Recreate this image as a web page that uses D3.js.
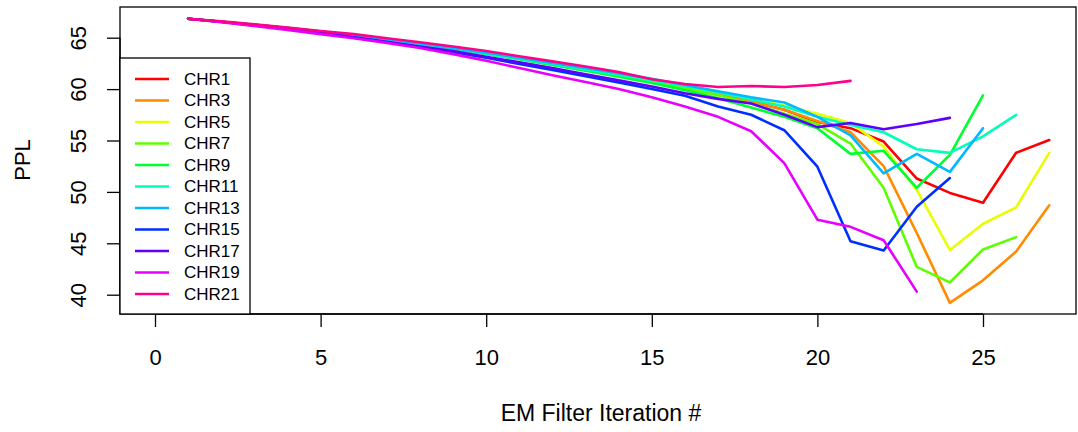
<!DOCTYPE html>
<html>
<head>
<meta charset="utf-8">
<script src="https://cdn.jsdelivr.net/npm/d3@7"></script>
<style>
  body { margin: 0; background: #fff; }
  svg text { font-family: "Liberation Sans", Arial, sans-serif; fill: #000; }
</style>
</head>
<body>
<svg id="chart" width="1078" height="432"></svg>
<script>
// series names + colours (R rainbow(11))
const names = ["CHR1", "CHR3", "CHR5", "CHR7", "CHR9", "CHR11", "CHR13", "CHR15", "CHR17", "CHR19", "CHR21"];
const colors = ["#FF0000", "#FF8B00", "#E8FF00", "#5DFF00", "#00FF2E", "#00FFB9", "#00B9FF", "#002EFF", "#5D00FF", "#E800FF", "#FF008B"];

// PPL per iteration, first value is iteration 1
const chr1 = [66.85, 66.55, 66.25, 65.95, 65.6, 65.2, 64.8, 64.4, 63.95, 63.45, 62.95, 62.4, 61.85, 61.3, 60.75, 60.2, 59.5, 58.8, 58.0, 56.8, 56.2, 54.9, 51.3, 49.9, 48.95, 53.8, 55.05];
const chr3 = [66.85, 66.55, 66.25, 65.95, 65.6, 65.2, 64.8, 64.4, 63.95, 63.45, 62.95, 62.4, 61.85, 61.3, 60.75, 60.2, 59.5, 58.8, 58.0, 56.9, 55.8, 52.5, 46.0, 39.2, 41.4, 44.2, 48.7];
const chr5 = [66.85, 66.55, 66.25, 65.95, 65.6, 65.2, 64.8, 64.4, 63.95, 63.45, 62.95, 62.45, 61.9, 61.35, 60.8, 60.3, 59.7, 59.1, 58.4, 57.6, 56.7, 54.4, 50.2, 44.35, 46.9, 48.5, 53.8];
const chr7 = [66.85, 66.55, 66.25, 65.95, 65.6, 65.2, 64.8, 64.4, 63.95, 63.45, 62.95, 62.4, 61.85, 61.3, 60.7, 60.1, 59.4, 58.6, 57.6, 56.6, 54.7, 50.4, 42.7, 41.2, 44.4, 45.6];
const chr9 = [66.85, 66.55, 66.25, 65.95, 65.6, 65.2, 64.8, 64.4, 63.95, 63.45, 62.9, 62.35, 61.8, 61.2, 60.6, 59.9, 59.1, 58.2, 57.3, 56.2, 53.7, 54.0, 50.4, 53.6, 59.4];
const chr11 = [66.85, 66.55, 66.25, 65.95, 65.6, 65.2, 64.8, 64.4, 63.95, 63.45, 62.95, 62.45, 61.9, 61.4, 60.85, 60.3, 59.7, 59.0, 58.3, 57.3, 56.5, 55.8, 54.15, 53.8, 55.4, 57.5];
const chr13 = [66.85, 66.55, 66.25, 65.95, 65.6, 65.25, 64.85, 64.45, 64.0, 63.55, 63.05, 62.55, 62.05, 61.55, 61.0, 60.4, 59.8, 59.2, 58.7, 57.3, 55.5, 51.8, 53.7, 51.95, 56.2];
const chr15 = [66.85, 66.55, 66.2, 65.85, 65.5, 65.0, 64.55, 64.1, 63.6, 63.05, 62.45, 61.85, 61.25, 60.65, 60.0, 59.35, 58.3, 57.5, 56.0, 52.45, 45.2, 44.3, 48.55, 51.35];
const chr17 = [66.85, 66.55, 66.2, 65.85, 65.5, 65.05, 64.6, 64.15, 63.7, 63.15, 62.6, 62.05, 61.45, 60.85, 60.25, 59.6, 59.05, 58.6, 57.5, 56.3, 56.7, 56.1, 56.6, 57.2];
const chr19 = [66.85, 66.5, 66.15, 65.75, 65.35, 64.95, 64.5, 64.0, 63.4, 62.75, 62.05, 61.35, 60.7, 60.0, 59.2, 58.3, 57.3, 55.9, 52.8, 47.3, 46.6, 45.3, 40.3];
const chr21 = [66.85, 66.6, 66.3, 66.0, 65.65, 65.35, 64.95, 64.55, 64.15, 63.7, 63.2, 62.7, 62.2, 61.65, 60.95, 60.5, 60.2, 60.3, 60.2, 60.4, 60.8];

const xTicks = [0, 5, 10, 15, 20, 25];
const yTicks = [40, 45, 50, 55, 60, 65];

const allSeries = [chr1, chr3, chr5, chr7, chr9, chr11, chr13, chr15, chr17, chr19, chr21];

const svg = d3.select("#chart");

// plot box (R style)
const box = { left: 120, right: 1076, top: 7, bottom: 314 };

const x = d3.scaleLinear().domain([0, 25]).range([155, 983]);
const y = d3.scaleLinear().domain([40, 65]).range([294.7, 37.7]);

const line = d3.line()
  .x((d, i) => x(i + 1))
  .y(d => y(d));

const plot = svg.append("g");
plot.selectAll("path.series")
  .data(allSeries)
  .join("path")
  .attr("class", "series")
  .attr("d", d => line(d))
  .attr("fill", "none")
  .attr("stroke", (d, i) => colors[i])
  .attr("stroke-width", 2.6)
  .attr("stroke-linejoin", "round")
  .attr("stroke-linecap", "round");

// box
svg.append("rect")
  .attr("x", box.left).attr("y", box.top)
  .attr("width", box.right - box.left).attr("height", box.bottom - box.top)
  .attr("fill", "none").attr("stroke", "#000").attr("stroke-width", 1.3);

// x axis
const xAxis = svg.append("g").attr("transform", `translate(0,${box.bottom})`)
  .call(d3.axisBottom(x).tickValues(xTicks).tickSize(13));
xAxis.select(".domain").attr("d", `M${x(0)},0H${x(25)}`).attr("stroke-width", 1.3);
xAxis.selectAll(".tick line").attr("stroke-width", 1.3);
xAxis.selectAll("text")
  .attr("y", 43).attr("dy", null)
  .attr("dominant-baseline", "central")
  .style("font-size", "22px")
  .attr("font-family", null);

// y axis
const yAxis = svg.append("g").attr("transform", `translate(${box.left},0)`)
  .call(d3.axisLeft(y).tickValues(yTicks).tickSize(13).tickFormat(d3.format("d")));
yAxis.select(".domain").attr("d", `M0,${y(40)}V${y(65)}`).attr("stroke-width", 1.3);
yAxis.selectAll(".tick line").attr("stroke-width", 1.3);
yAxis.selectAll("text")
  .attr("x", null).attr("dy", null)
  .attr("transform", "translate(-42,0) rotate(-90)")
  .attr("text-anchor", "middle")
  .attr("dominant-baseline", "central")
  .style("font-size", "22px")
  .attr("font-family", null);

// axis titles
svg.append("text")
  .attr("x", 601).attr("y", 413)
  .attr("text-anchor", "middle").attr("dominant-baseline", "central")
  .style("font-size", "23px")
  .text("EM Filter Iteration #");

svg.append("text")
  .attr("transform", "translate(22,160) rotate(-90)")
  .attr("text-anchor", "middle").attr("dominant-baseline", "central")
  .style("font-size", "22px")
  .text("PPL");

// legend
const legend = svg.append("g");
legend.append("rect")
  .attr("x", 120).attr("y", 58).attr("width", 130).attr("height", 256)
  .attr("fill", "#fff").attr("stroke", "#000").attr("stroke-width", 1.3);
const rows = legend.selectAll("g.row")
  .data(names)
  .join("g")
  .attr("class", "row")
  .attr("transform", (d, i) => `translate(0,${79 + i * 21.5})`);
rows.append("line")
  .attr("x1", 135).attr("x2", 169)
  .attr("stroke", (d, i) => colors[i])
  .attr("stroke-width", 2.6);
rows.append("text")
  .attr("x", 184)
  .attr("dominant-baseline", "central")
  .style("font-size", "17px")
  .text(d => d);
</script>
</body>
</html>
